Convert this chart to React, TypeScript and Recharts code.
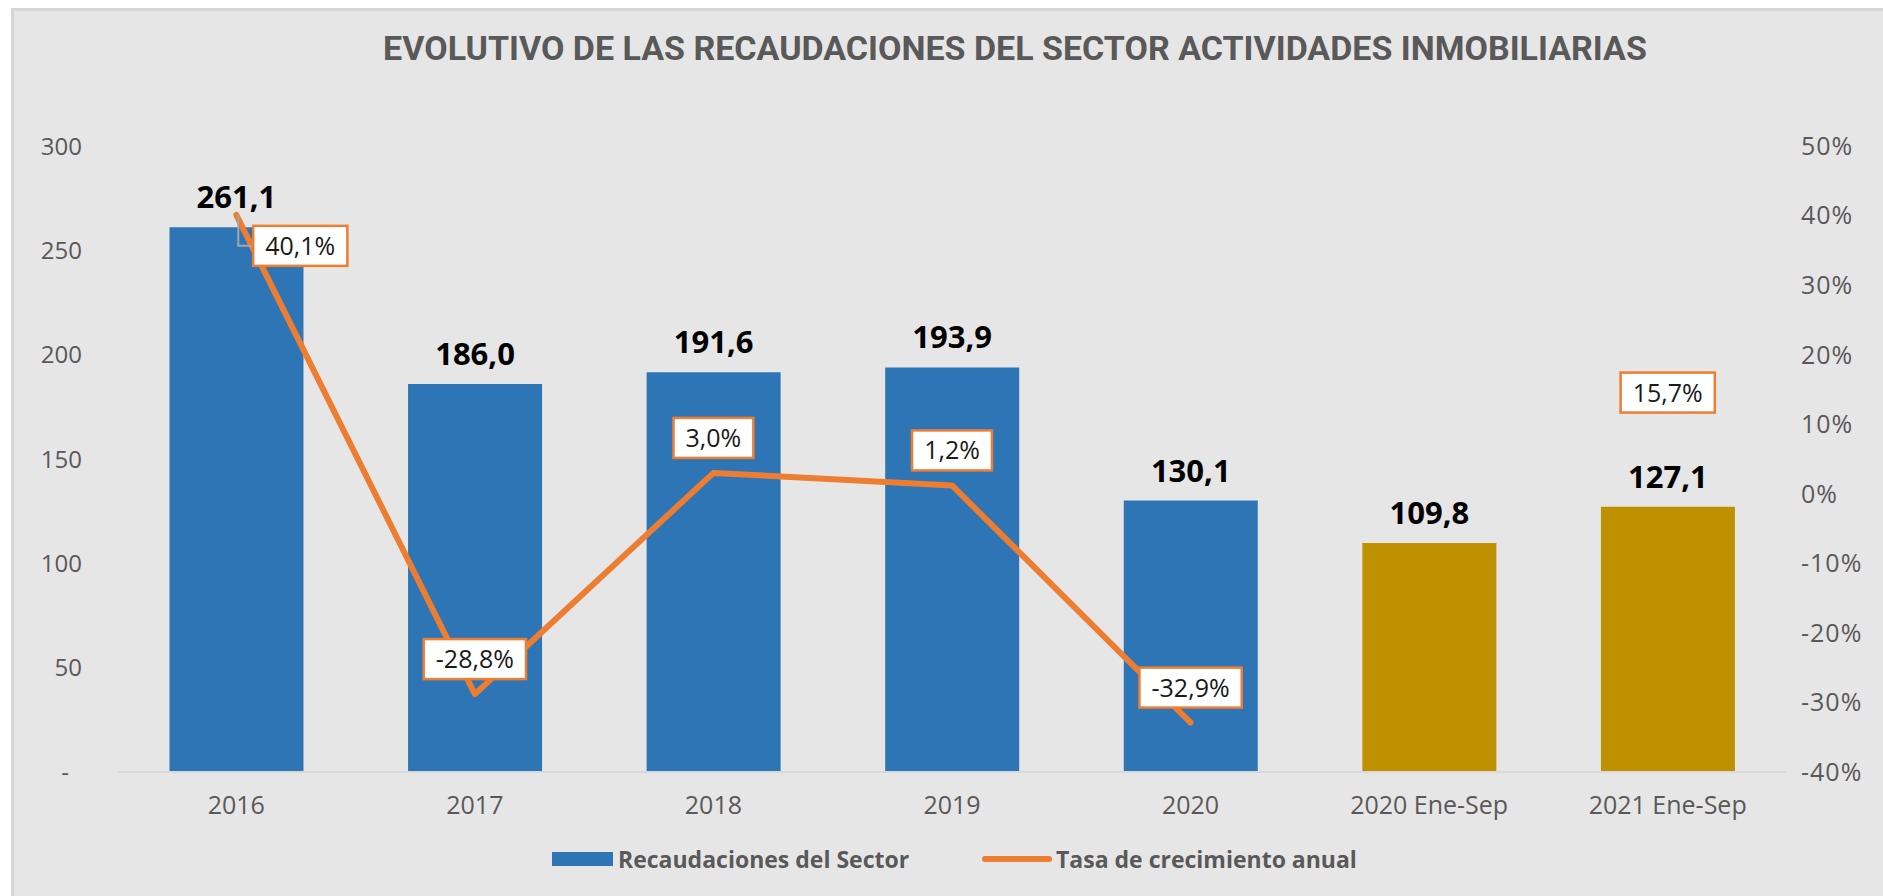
import React from 'react'
import {
  Bar, Cell, ComposedChart, LabelList, Legend, Line, XAxis, YAxis,
} from 'recharts'

const BLUE = '#2E75B6'
const GOLD = '#BF9000'
const ORANGE = '#ED7D31'
const GRAY_TEXT = '#595959'
const FONT = "'Open Sans', sans-serif"

const categories = ['2016', '2017', '2018', '2019', '2020', '2020 Ene-Sep', '2021 Ene-Sep']
const recaudaciones = [261.1, 186.0, 191.6, 193.9, 130.1, 109.8, 127.1]
const tasaCrecimiento: (number | null)[] = [40.1, -28.8, 3.0, 1.2, -32.9, null, 15.7]
const barColors = [BLUE, BLUE, BLUE, BLUE, BLUE, GOLD, GOLD]
const leftTicks = [0, 50, 100, 150, 200, 250, 300]
const rightTicks = [-40, -30, -20, -10, 0, 10, 20, 30, 40, 50]

const data = categories.map((name, i) => ({
  name,
  recaudacion: recaudaciones[i],
  tasa: tasaCrecimiento[i],
}))

const fmt = (v: number) => v.toFixed(1).replace('.', ',')

// rough width of Open Sans text at 25px, used for the label boxes
function boxWidth(text: string) {
  let w = 0
  for (const ch of text) {
    if (ch === ',') w += 6.5
    else if (ch === '%') w += 20.8
    else if (ch === '-') w += 8.1
    else w += 14.3
  }
  return w + 24
}

function LeftTick(props: any) {
  const { x, y, payload } = props
  const zero = payload.value === 0
  return (
    <text x={zero ? x - 13 : x} y={y} dy="0.36em" textAnchor="end" fontSize={24} fill={GRAY_TEXT} fontFamily={FONT}>
      {zero ? '-' : payload.value}
    </text>
  )
}

function BarValueLabel(props: any) {
  const { x, y, width, value } = props
  if (value == null) return null
  return (
    <text x={x + width / 2} y={y - 19} textAnchor="middle" fontSize={31} fontWeight={700} fill="#000" fontFamily={FONT}>
      {fmt(value)}
    </text>
  )
}

function PctLabel(props: any) {
  const { x, y, value, index } = props
  if (value == null || x == null || y == null) return null
  const text = `${fmt(value)}%`
  const w = boxWidth(text)
  let cx = x
  let cy = y - 35
  if (index === 0) { cx = x + 64; cy = y + 31 }
  if (index === 6) { cy = y + 8 }
  return (
    <g>
      {index === 0 && (
        <polyline
          points={`${x + 2},${y} ${x + 2},${cy} ${cx - w / 2},${cy}`}
          stroke="#a6a6a6" strokeWidth={2} fill="none"
        />
      )}
      <rect x={cx - w / 2} y={cy - 20} width={w} height={40} fill="#fff" stroke={ORANGE} strokeWidth={2.5} />
      <text x={cx} y={cy} dy="0.36em" textAnchor="middle" fontSize={25} fill="#1a1a1a" fontFamily={FONT}>
        {text}
      </text>
    </g>
  )
}

function ChartLegend() {
  return (
    <div style={{ position: 'relative', height: 74, fontFamily: FONT, fontSize: 23, fontWeight: 700, color: GRAY_TEXT }}>
      <div style={{ position: 'absolute', left: 541, top: 0, height: 74, display: 'flex', alignItems: 'center' }}>
        <span style={{ display: 'inline-block', width: 61, height: 14, background: BLUE, marginRight: 5 }} />
        <span>Recaudaciones del Sector</span>
      </div>
      <div style={{ position: 'absolute', left: 971, top: 0, height: 74, display: 'flex', alignItems: 'center' }}>
        <span style={{ display: 'inline-block', width: 70, height: 6, borderRadius: 3, background: ORANGE, marginRight: 4 }} />
        <span>Tasa de crecimiento anual</span>
      </div>
    </div>
  )
}

export default function App() {
  return (
    <div style={{ position: 'fixed', left: 0, top: 0, width: 1883, height: 896, background: '#fff', overflow: 'hidden' }}>
      <div
        style={{
          position: 'absolute', left: 11, top: 8, width: 1872, height: 888,
          background: '#e7e6e6', boxShadow: 'inset 3px 3px 0 #d6d6d6',
        }}
      >
        <div
          style={{
            position: 'absolute', left: 1004, top: 21, transform: 'translateX(-50%)', whiteSpace: 'nowrap',
            fontFamily: 'Roboto, sans-serif', fontWeight: 700, fontSize: 34, lineHeight: '38px', color: GRAY_TEXT,
          }}
        >
          EVOLUTIVO DE LAS RECAUDACIONES DEL SECTOR ACTIVIDADES INMOBILIARIAS
        </div>
        <ComposedChart
          width={1872}
          height={888}
          data={data}
          margin={{ top: 138, right: 0, bottom: 0, left: 0 }}
          barCategoryGap="22%"
        >
          <XAxis
            dataKey="name"
            interval={0}
            height={50}
            axisLine={{ stroke: '#d9d9d9', strokeWidth: 2 }}
            tickLine={false}
            tickMargin={18}
            tick={{ fontSize: 25, fill: GRAY_TEXT, fontFamily: FONT }}
          />
          <YAxis
            yAxisId="left"
            width={106}
            domain={[0, 300]}
            ticks={leftTicks}
            axisLine={false}
            tickLine={false}
            tickMargin={29}
            tick={<LeftTick />}
          />
          <YAxis
            yAxisId="right"
            orientation="right"
            width={96}
            domain={[-40, 50]}
            ticks={rightTicks}
            axisLine={false}
            tickLine={false}
            tickMargin={8}
            tickFormatter={(v: number) => `${v}%`}
            tick={{ fontSize: 25, fill: GRAY_TEXT, fontFamily: FONT, letterSpacing: 1 }}
          />
          <Legend verticalAlign="bottom" content={() => <ChartLegend />} />
          <Bar yAxisId="left" dataKey="recaudacion" isAnimationActive={false}>
            {data.map((d, i) => <Cell key={d.name} fill={barColors[i]} />)}
            <LabelList dataKey="recaudacion" content={<BarValueLabel />} />
          </Bar>
          <Line
            yAxisId="right"
            dataKey="tasa"
            type="linear"
            stroke={ORANGE}
            strokeWidth={6}
            strokeLinecap="round"
            strokeLinejoin="round"
            dot={false}
            activeDot={false}
            connectNulls={false}
            isAnimationActive={false}
          >
            <LabelList dataKey="tasa" content={<PctLabel />} />
          </Line>
        </ComposedChart>
      </div>
    </div>
  )
}
